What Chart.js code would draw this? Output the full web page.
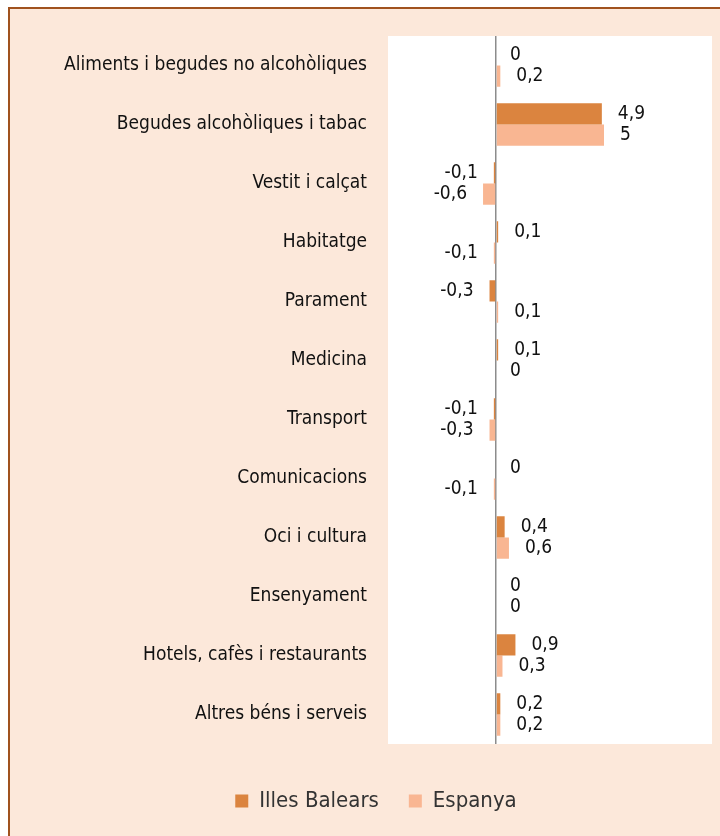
<!DOCTYPE html>
<html>
<head>
<meta charset="utf-8">
<script src="https://cdn.jsdelivr.net/npm/chart.js@4.4.1/dist/chart.umd.min.js"></script>
<style>
  html, body { margin: 0; padding: 0; background: #fff; }
  .frame {
    position: absolute; left: 8px; top: 7px;
    width: 720px; height: 840px;
    border: 2px solid #A0521E;
    background: #FCE8DA;
  }
  .frame canvas { position: absolute; left: 0; top: 0; }
</style>
</head>
<body>
<div class="frame"><canvas id="chart" width="710" height="827"></canvas></div>
<script>
const categories = [
  'Aliments i begudes no alcohòliques',
  'Begudes alcohòliques i tabac',
  'Vestit i calçat',
  'Habitatge',
  'Parament',
  'Medicina',
  'Transport',
  'Comunicacions',
  'Oci i cultura',
  'Ensenyament',
  'Hotels, cafès i restaurants',
  'Altres béns i serveis',
];
const illesBalears = [0, 4.9, -0.1, 0.1, -0.3, 0.1, -0.1, 0, 0.4, 0, 0.9, 0.2];
const espanya = [0.2, 5, -0.6, -0.1, 0.1, 0, -0.3, -0.1, 0.6, 0, 0.3, 0.2];

const FONT = '"Liberation Sans Narrow", "DejaVu Sans Condensed", "Liberation Sans", sans-serif';

const fmt = (v) => String(v).replace('.', ',');

const plotBackground = {
  id: 'plotBackground',
  beforeDraw(chart) {
    const { ctx, chartArea: a } = chart;
    ctx.save();
    ctx.fillStyle = '#ffffff';
    ctx.fillRect(a.left, a.top, a.right - a.left, a.bottom - a.top);
    ctx.restore();
  },
};

const valueLabels = {
  id: 'valueLabels',
  afterDatasetsDraw(chart) {
    const { ctx } = chart;
    ctx.save();
    ctx.font = `19px ${FONT}`;
    ctx.fillStyle = '#111';
    ctx.textBaseline = 'middle';
    chart.data.datasets.forEach((ds, i) => {
      chart.getDatasetMeta(i).data.forEach((bar, j) => {
        const v = ds.data[j];
        if (v < 0) {
          ctx.textAlign = 'right';
          ctx.fillText(fmt(v), bar.x - 16, bar.y);
        } else {
          ctx.textAlign = 'left';
          ctx.fillText(fmt(v), bar.x + (v === 0 ? 14 : 16), bar.y);
        }
      });
    });
    ctx.restore();
  },
};

new Chart(document.getElementById('chart'), {
  type: 'bar',
  data: {
    labels: categories,
    datasets: [
      { label: 'Illes Balears', data: illesBalears, backgroundColor: '#DB843F' },
      { label: 'Espanya', data: espanya, backgroundColor: '#F9B692' },
    ],
  },
  options: {
    indexAxis: 'y',
    responsive: false,
    animation: false,
    categoryPercentage: 0.72,
    barPercentage: 1,
    layout: { padding: { top: 27, right: 8, left: 30, bottom: 14 } },
    scales: {
      x: {
        min: -5,
        max: 10,
        ticks: { display: false, stepSize: 5 },
        border: { display: false },
        grid: {
          drawTicks: false,
          lineWidth: 1.5,
          color: (c) => (c.tick && c.tick.value === 0 ? '#8c8c8c' : 'rgba(0,0,0,0)'),
        },
        afterFit: (scale) => { scale.height = 16; },
      },
      y: {
        border: { display: false },
        grid: { display: false, drawTicks: false },
        ticks: {
          padding: 21,
          color: '#111',
          font: { family: FONT, size: 19 },
        },
        afterFit: (scale) => {
          scale.width = 348;
          scale.paddingTop = 0;
          scale.paddingBottom = 0;
        },
      },
    },
    plugins: {
      legend: {
        position: 'bottom',
        labels: {
          boxWidth: 13,
          boxHeight: 13,
          padding: 30,
          color: '#333',
          font: { family: FONT, size: 22 },
        },
      },
      tooltip: { enabled: false },
    },
  },
  plugins: [plotBackground, valueLabels],
});
</script>
</body>
</html>
